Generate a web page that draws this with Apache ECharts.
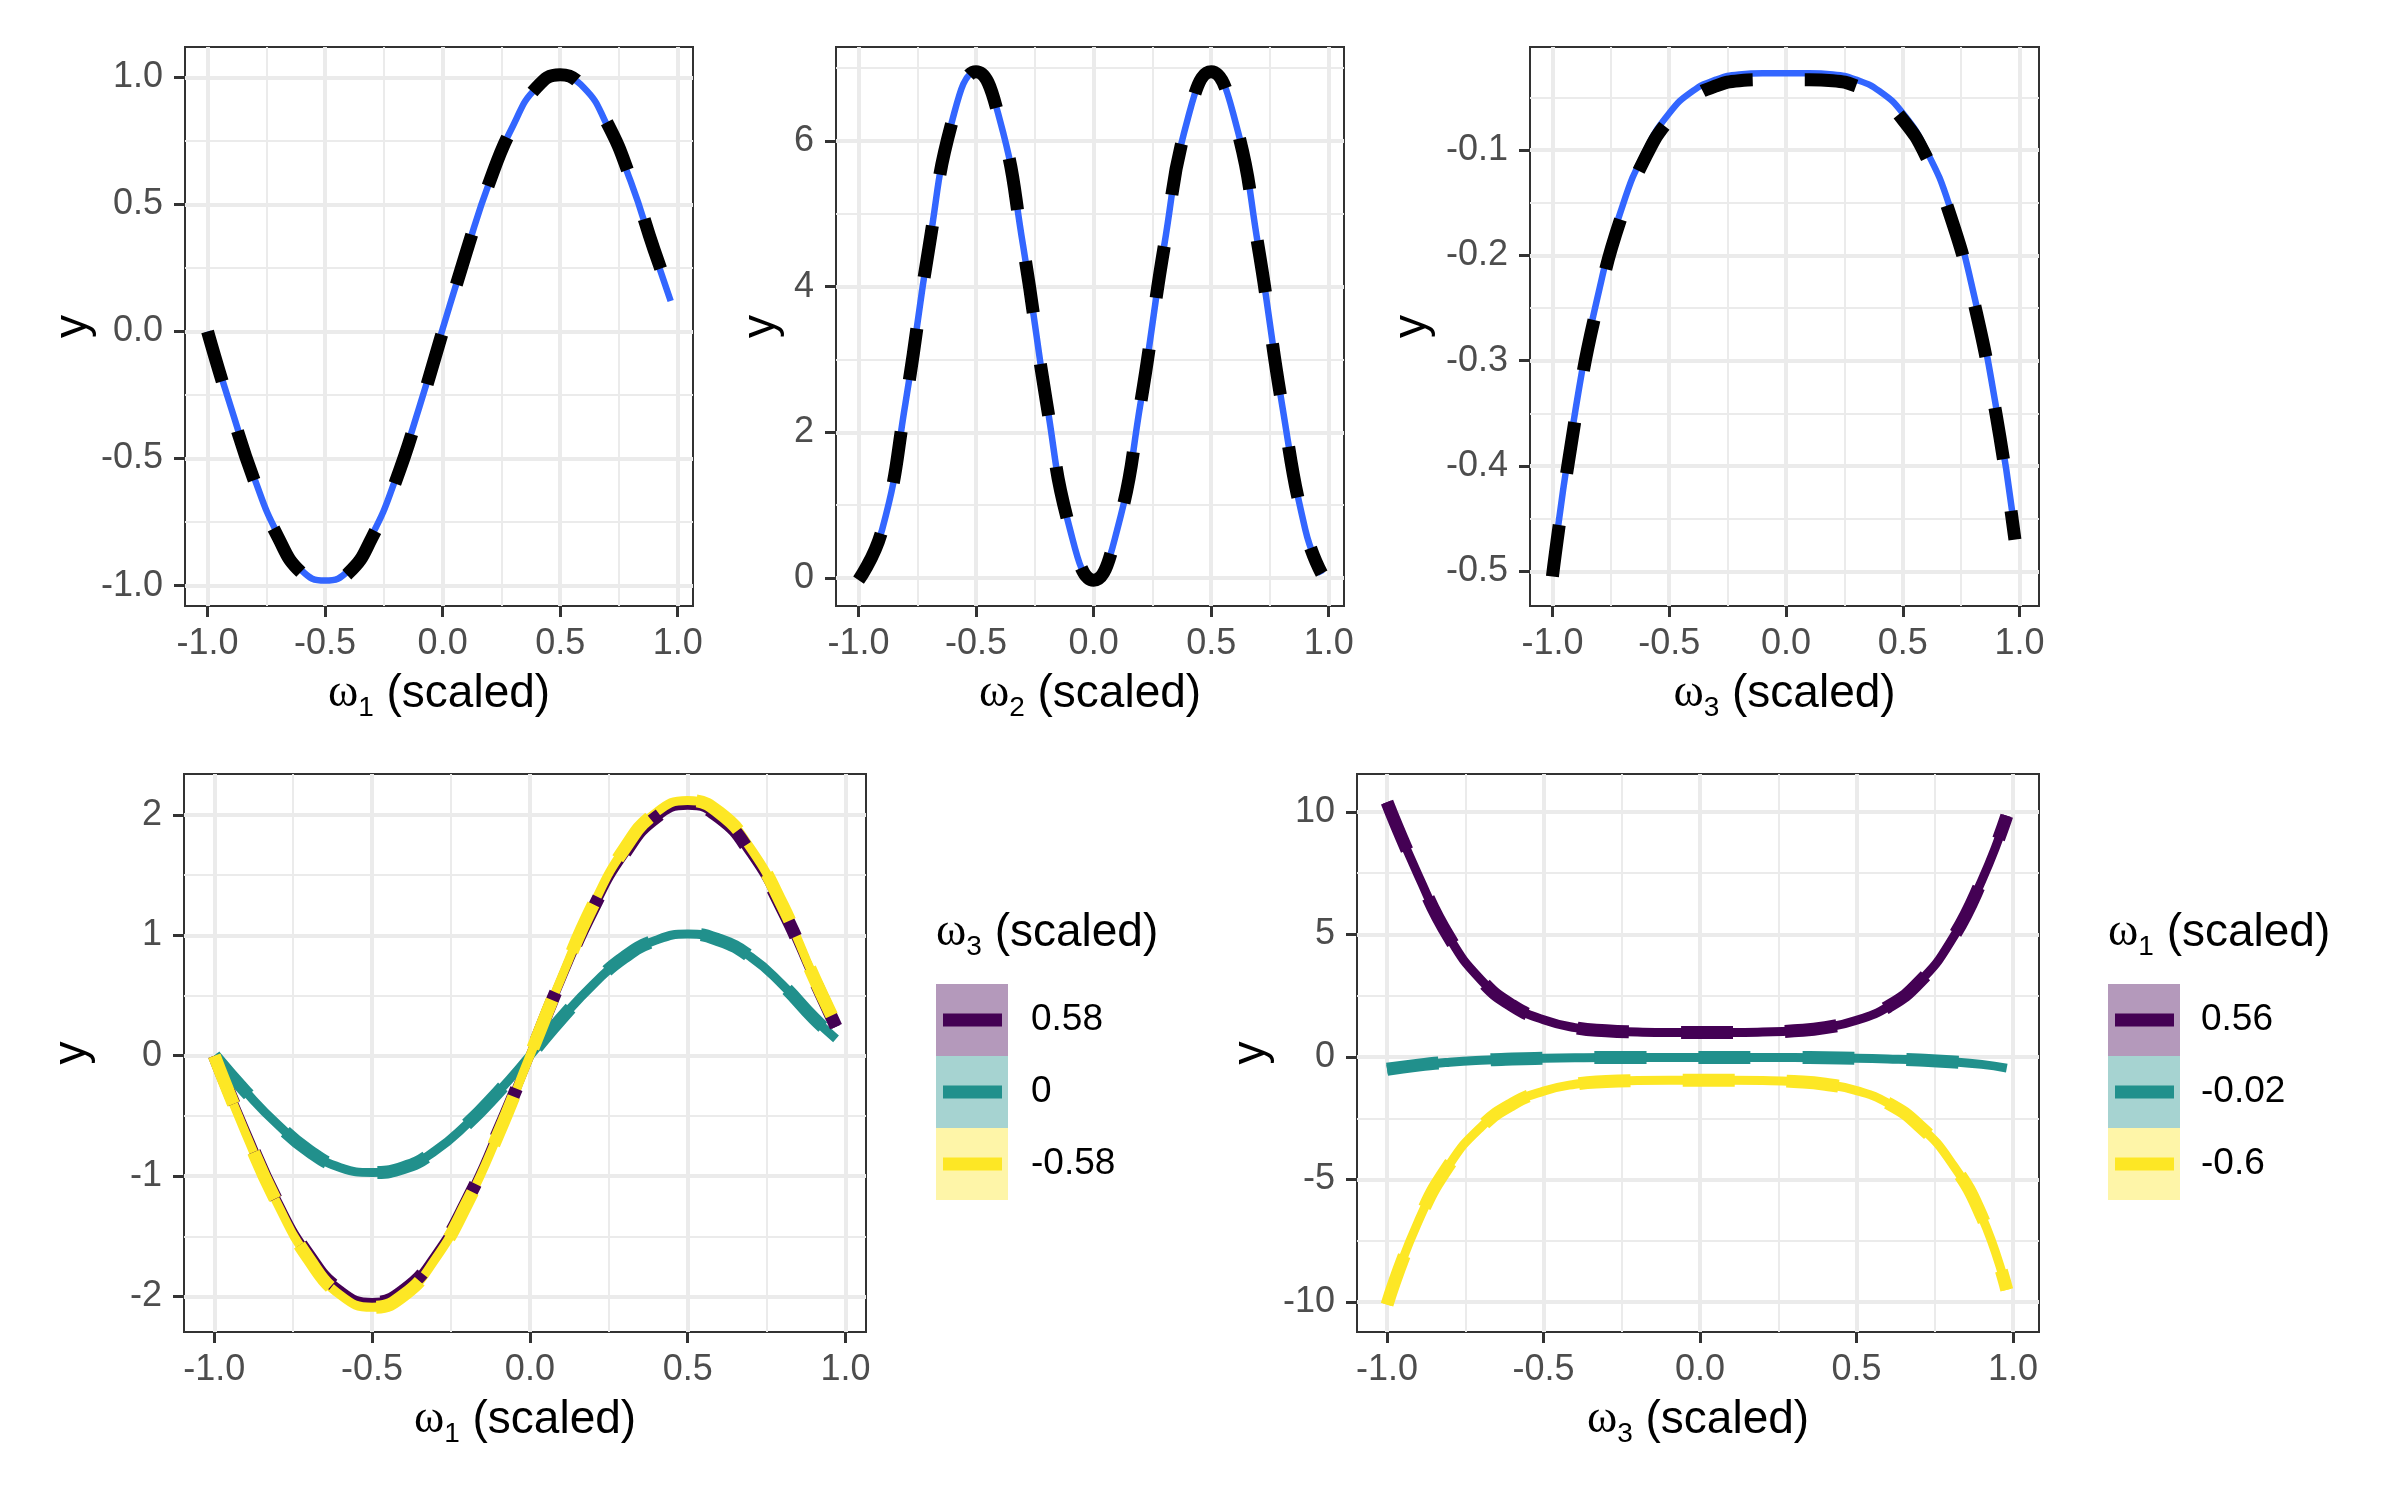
<!DOCTYPE html>
<html lang="en">
<head>
<meta charset="UTF-8">
<script src="https://cdn.jsdelivr.net/npm/echarts@6.0.0/dist/echarts.min.js"></script>
<style>
  html, body { margin: 0; padding: 0; background: #ffffff; }
  #chart { width: 2400px; height: 1500px; }
</style>
</head>
<body>
<div id="chart"></div>
<script>
// x grids (scaled omega values)
var xW12 = [-1, -0.9, -0.8, -0.7, -0.6, -0.5, -0.4, -0.3, -0.2, -0.1, 0, 0.1, 0.2, 0.3, 0.4, 0.5, 0.6, 0.7, 0.8, 0.9, 0.97];
var xW3 = [-1, -0.9, -0.8, -0.7, -0.6, -0.5, -0.4, -0.3, -0.2, -0.1, 0, 0.1, 0.2, 0.3, 0.4, 0.5, 0.6, 0.7, 0.8, 0.9, 0.98];

// top row: fitted (blue) and true (black dashed)
var fit1 = [0, -0.30, -0.58, -0.80, -0.94, -0.98, -0.94, -0.80, -0.58, -0.30, 0.01, 0.31, 0.59, 0.81, 0.96, 1.00, 0.96, 0.81, 0.59, 0.31, 0.12];
var true1 = [0, -0.31, -0.59, -0.81, -0.95, -0.99, -0.95, -0.81, -0.59, -0.31, 0, 0.31, 0.59, 0.81, 0.96, 1.01, 0.96, 0.82, 0.60, 0.32, 0.14];
var fit2 = [0.00, 0.66, 2.41, 4.56, 6.30, 6.95, 6.30, 4.56, 2.41, 0.66, -0.03, 0.66, 2.41, 4.56, 6.30, 6.95, 6.30, 4.56, 2.41, 0.67, 0.05];
var true2 = [-0.03, 0.66, 2.40, 4.55, 6.29, 6.95, 6.29, 4.55, 2.40, 0.66, -0.03, 0.66, 2.40, 4.55, 6.29, 6.95, 6.29, 4.55, 2.40, 0.66, 0.06];
var fit3 = [-0.500, -0.345, -0.233, -0.153, -0.100, -0.065, -0.044, -0.033, -0.028, -0.027, -0.027, -0.027, -0.028, -0.033, -0.044, -0.065, -0.100, -0.153, -0.233, -0.345, -0.462];
var true3 = [-0.505, -0.352, -0.240, -0.160, -0.106, -0.071, -0.050, -0.039, -0.034, -0.033, -0.033, -0.033, -0.034, -0.039, -0.050, -0.071, -0.106, -0.160, -0.240, -0.352, -0.470];

// bottom left: y against omega1 for three omega3 levels
var w3Levels = ['0.58', '0', '-0.58'];
var left058 = [0, -0.63, -1.21, -1.66, -1.95, -2.05, -1.95, -1.66, -1.21, -0.63, 0, 0.64, 1.22, 1.68, 1.98, 2.08, 1.98, 1.68, 1.22, 0.64, 0.24];
var left0 = [0, -0.30, -0.57, -0.79, -0.93, -0.97, -0.93, -0.79, -0.57, -0.30, 0, 0.31, 0.59, 0.82, 0.96, 1.01, 0.96, 0.82, 0.59, 0.31, 0.14];
var leftm058 = [0, -0.65, -1.23, -1.69, -1.99, -2.09, -1.99, -1.69, -1.23, -0.65, 0, 0.65, 1.25, 1.72, 2.02, 2.12, 2.02, 1.72, 1.25, 0.65, 0.26];

// bottom right: y against omega3 for three omega1 levels
var w1Levels = ['0.56', '-0.02', '-0.6'];
var right056 = [10.4, 7.4, 4.85, 3.15, 2.1, 1.52, 1.2, 1.07, 1.02, 1.0, 1.0, 1.0, 1.02, 1.07, 1.2, 1.5, 2.05, 3.05, 4.7, 7.2, 9.85];
var rightm002 = [-0.5, -0.33, -0.21, -0.13, -0.08, -0.05, -0.03, -0.02, -0.02, -0.02, -0.02, -0.02, -0.02, -0.02, -0.03, -0.05, -0.08, -0.12, -0.19, -0.3, -0.45];
var rightm06 = [-10.1, -6.7, -4.37, -2.86, -1.92, -1.39, -1.11, -1.0, -0.96, -0.95, -0.95, -0.95, -0.96, -1.0, -1.11, -1.37, -1.88, -2.8, -4.25, -6.5, -9.5];

// tick positions
var xTicks = [-1, -0.5, 0, 0.5, 1];
var xMinor = [-0.75, -0.25, 0.25, 0.75];
var yTicks1 = [-1, -0.5, 0, 0.5, 1], yMinor1 = [-0.75, -0.25, 0.25, 0.75];
var yTicks2 = [0, 2, 4, 6], yMinor2 = [1, 3, 5, 7];
var yTicks3 = [-0.5, -0.4, -0.3, -0.2, -0.1], yMinor3 = [-0.45, -0.35, -0.25, -0.15, -0.05];
var yTicks4 = [-2, -1, 0, 1, 2], yMinor4 = [-1.5, -0.5, 0.5, 1.5];
var yTicks5 = [-10, -5, 0, 5, 10], yMinor5 = [-7.5, -2.5, 2.5, 7.5];

var FONT = 'Liberation Sans';
var viridis = ['#440154', '#21908C', '#FDE725'];
var keyFill = ['rgba(68,1,84,0.4)', 'rgba(33,144,140,0.4)', 'rgba(253,231,37,0.4)'];

function omegaRich() {
    return {
        w: { fontFamily: 'Liberation Serif', fontSize: 46, lineHeight: 46, fontWeight: 'normal', color: '#000' },
        s: { fontFamily: FONT, fontSize: 28, height: 18, lineHeight: 18, verticalAlign: 'bottom', fontWeight: 'normal', color: '#000' },
        t: { fontFamily: FONT, fontSize: 46, lineHeight: 46, fontWeight: 'normal', color: '#000' }
    };
}
function omegaName(k) { return '{w|ω}{s|' + k + '}{t| (scaled)}'; }

var panels = [
    { grid: { left: 185, top: 47, width: 508, height: 559 }, xr: [-1.096, 1.065], yr: [-1.08, 1.119], yt: yTicks1, ym: yMinor1, dec: 1, sub: '1', yGap: 112 },
    { grid: { left: 836, top: 47, width: 508, height: 559 }, xr: [-1.096, 1.065], yr: [-0.385, 7.29], yt: yTicks2, ym: yMinor2, dec: 0, sub: '2', yGap: 75 },
    { grid: { left: 1530, top: 47, width: 509, height: 559 }, xr: [-1.096, 1.083], yr: [-0.533, -0.002], yt: yTicks3, ym: yMinor3, dec: 1, sub: '3', yGap: 118 },
    { grid: { left: 184, top: 774, width: 682, height: 558 }, xr: [-1.096, 1.065], yr: [-2.295, 2.34], yt: yTicks4, ym: yMinor4, dec: 0, sub: '1', yGap: 112 },
    { grid: { left: 1357, top: 774, width: 682, height: 558 }, xr: [-1.096, 1.083], yr: [-11.22, 11.55], yt: yTicks5, ym: yMinor5, dec: 0, sub: '3', yGap: 106 }
];

var grids = [], xAxes = [], yAxes = [], series = [];

panels.forEach(function (p, i) {
    var g = Object.assign({ show: true, borderColor: '#333333', borderWidth: 2, backgroundColor: 'rgba(0,0,0,0)', containLabel: false, outerBoundsMode: 'none' }, p.grid);
    grids.push(g);
    // major x axis
    xAxes.push({
        type: 'value', gridIndex: i, min: p.xr[0], max: p.xr[1], position: 'bottom',
        axisLine: { show: false, onZero: false },
        axisTick: { show: true, length: 11, customValues: xTicks, lineStyle: { color: '#333333', width: 3 } },
        axisLabel: { customValues: xTicks, formatter: function (v) { return v.toFixed(1); }, fontSize: 36, color: '#4D4D4D', margin: 20, fontFamily: FONT },
        splitLine: { show: true, lineStyle: { color: '#EBEBEB', width: 4 } },
        name: omegaName(p.sub), nameLocation: 'middle', nameGap: 65, nameMoveOverlap: false,
        nameTextStyle: { rich: omegaRich() }
    });
    // minor x grid
    xAxes.push({
        type: 'value', gridIndex: i, min: p.xr[0], max: p.xr[1], position: 'top',
        axisLine: { show: false, onZero: false },
        axisTick: { show: false, customValues: xMinor },
        axisLabel: { show: false, customValues: xMinor },
        splitLine: { show: true, lineStyle: { color: '#EBEBEB', width: 2 } }
    });
    var dec = p.dec;
    yAxes.push({
        type: 'value', gridIndex: i, min: p.yr[0], max: p.yr[1], position: 'left',
        axisLine: { show: false, onZero: false },
        axisTick: { show: true, length: 11, customValues: p.yt, lineStyle: { color: '#333333', width: 3 } },
        axisLabel: { customValues: p.yt, formatter: function (v) { return v.toFixed(dec); }, fontSize: 36, color: '#4D4D4D', margin: 22, fontFamily: FONT },
        splitLine: { show: true, lineStyle: { color: '#EBEBEB', width: 4 } },
        name: 'y', nameLocation: 'middle', nameGap: p.yGap, nameRotate: 90, nameMoveOverlap: false,
        nameTextStyle: { fontSize: 46, color: '#000', fontFamily: FONT, verticalAlign: 'middle' }
    });
    yAxes.push({
        type: 'value', gridIndex: i, min: p.yr[0], max: p.yr[1], position: 'right',
        axisLine: { show: false, onZero: false },
        axisTick: { show: false, customValues: p.ym },
        axisLabel: { show: false, customValues: p.ym },
        splitLine: { show: true, lineStyle: { color: '#EBEBEB', width: 2 } }
    });
});

function pairs(xs, ys) {
    return xs.map(function (x, k) { return [x, ys[k]]; });
}

function line(i, name, xs, ys, color, width, dashed, z) {
    return {
        type: 'line', name: name, xAxisIndex: 2 * i, yAxisIndex: 2 * i,
        data: pairs(xs, ys), smooth: 0.5, symbol: 'none', showSymbol: false,
        lineStyle: { color: color, width: width, type: dashed ? [52, 52] : 'solid', cap: 'butt', join: 'round' },
        itemStyle: { color: color, borderWidth: 0 },
        z: z, silent: true, emphasis: { disabled: true }
    };
}

// top row
series.push(line(0, 'fit w1', xW12, fit1, '#3366FF', 6.5, false, 2));
series.push(line(0, 'true w1', xW12, true1, '#000000', 13, true, 3));
series.push(line(1, 'fit w2', xW12, fit2, '#3366FF', 6.5, false, 2));
series.push(line(1, 'true w2', xW12, true2, '#000000', 13, true, 3));
series.push(line(2, 'fit w3', xW3, fit3, '#3366FF', 6.5, false, 2));
series.push(line(2, 'true w3', xW3, true3, '#000000', 13, true, 3));

// bottom row: solid fits first, dashed truths on top
var leftSets = [left058, left0, leftm058];
var rightSets = [right056, rightm002, rightm06];
[false, true].forEach(function (dashed) {
    leftSets.forEach(function (ys, k) {
        series.push(line(3, w3Levels[k], xW12, ys, viridis[k], dashed ? 13 : 9, dashed, dashed ? 3 : 2));
    });
});
[false, true].forEach(function (dashed) {
    rightSets.forEach(function (ys, k) {
        series.push(line(4, w1Levels[k], xW3, ys, viridis[k], dashed ? 13 : 9, dashed, dashed ? 3 : 2));
    });
});

function legendFor(levels, left, pad) {
    return {
        data: levels, orient: 'vertical', left: left, top: 984, padding: 0,
        itemWidth: 59, itemHeight: 13, itemGap: 0, icon: 'rect', selectedMode: false,
        itemStyle: { borderWidth: 0 },
        textStyle: { fontSize: 37, color: '#000', fontFamily: FONT, lineHeight: 72, padding: [0, 0, 0, pad] }
    };
}

var keys = [];
[936, 2108].forEach(function (x0) {
    keyFill.forEach(function (c, k) {
        keys.push({ type: 'rect', shape: { x: x0, y: 984 + 72 * k, width: 72, height: 72 }, style: { fill: c }, z: 0 });
    });
});

var option = {
    animation: false,
    backgroundColor: '#ffffff',
    textStyle: { fontFamily: FONT },
    grid: grids,
    xAxis: xAxes,
    yAxis: yAxes,
    series: series,
    legend: [legendFor(w3Levels, 943, 24), legendFor(w1Levels, 2115, 22)],
    title: [
        { text: omegaName('3'), left: 936, top: 910, padding: 0, textStyle: { fontWeight: 'normal', rich: omegaRich() } },
        { text: omegaName('1'), left: 2108, top: 910, padding: 0, textStyle: { fontWeight: 'normal', rich: omegaRich() } }
    ],
    graphic: keys
};

var chart = echarts.init(document.getElementById('chart'));
chart.setOption(option);
</script>
</body>
</html>
